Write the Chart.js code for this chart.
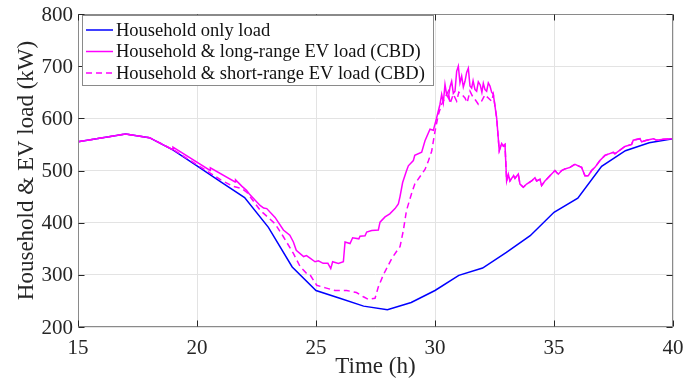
<!DOCTYPE html>
<html>
<head>
<meta charset="utf-8">
<script src="https://cdn.jsdelivr.net/npm/chart.js@4.4.1/dist/chart.umd.min.js"></script>
<style>
  html, body { margin: 0; padding: 0; background: #fff; }
</style>
</head>
<body>
<canvas id="chart" width="685" height="381"></canvas>
<script>
// Household only load (kW)
const blueTime = [15, 17, 18, 19, 20, 21, 22, 23, 24, 25, 26, 27, 28, 29, 30, 31, 32, 33, 34, 35, 36, 37, 38, 39, 40];
const blueLoad = [555, 570, 563, 539, 509, 478, 448, 391, 315, 270, 255, 240, 233, 247, 270, 299, 313, 343, 375, 420, 447, 508, 538, 553, 561];

// Household & long-range EV load (CBD)
const longTime = [15, 17, 18, 18.98, 18.99, 20.55, 20.56, 21.6, 21.62, 21.88, 22.08, 22.2, 22.65, 22.8, 22.93, 23.28, 23.63, 23.9, 24.05, 24.17,
  24.48, 24.6, 24.75, 24.96, 25.1, 25.3, 25.5, 25.62, 25.7, 25.94, 26.15, 26.22, 26.43, 26.54, 26.8, 26.85, 27.06, 27.13, 27.34, 27.62,
  27.69, 27.9, 28.1, 28.32, 28.46, 28.53, 28.64, 28.8, 28.88, 29.09, 29.15, 29.44, 29.58, 29.79, 29.93, 30.07, 30.21, 30.28, 30.35, 30.42,
  30.49, 30.56, 30.63, 30.7, 30.77, 30.84, 30.91, 30.98, 31.05, 31.12, 31.19, 31.26, 31.33, 31.4, 31.47, 31.54, 31.6, 31.68, 31.75, 31.82,
  31.9, 31.97, 32.03, 32.1, 32.17, 32.24, 32.31, 32.38, 32.45, 32.59, 32.7, 32.8, 32.87, 32.94, 33.01, 33.08, 33.15, 33.22, 33.3, 33.36,
  33.5, 33.57, 33.71, 33.85, 34.06, 34.2, 34.27, 34.41, 34.48, 34.62, 34.83, 35.04, 35.18, 35.32, 35.46, 35.67, 35.88, 36.02, 36.16, 36.3,
  36.44, 36.58, 36.72, 36.93, 37.14, 37.49, 37.56, 37.77, 37.98, 38.26, 38.33, 38.61, 38.68, 38.89, 39.17, 39.31, 39.59, 40];
const longLoad = [555, 570, 563, 540, 545, 500, 505, 478, 482, 470, 462, 455, 433, 428, 427, 410, 386, 376, 363, 347,
  335, 337, 332, 325, 327, 322, 322, 312, 325, 322, 325, 363, 360, 371, 369, 374, 375, 382, 385, 386,
  401, 411, 417, 427, 436, 450, 477, 499, 509, 519, 529, 535, 557, 579, 577, 601, 627, 646, 630, 665,
  645, 639, 660, 671, 648, 652, 690, 700, 668, 681, 660, 671, 688, 696, 662, 658, 672, 655, 652, 670,
  664, 650, 667, 655, 652, 668, 662, 650, 646, 601, 538, 552, 547, 550, 480, 493, 480, 485, 490, 485,
  493, 474, 468, 474, 480, 486, 480, 483, 471, 480, 490, 500, 493, 500, 503, 506, 512, 509, 506, 490,
  490, 500, 506, 519, 529, 535, 532, 539, 546, 550, 558, 561, 555, 558, 561, 558, 560, 561];

// Household & short-range EV load (CBD), up to the point where it joins the long-range curve
const shortHeadTime = [15, 17, 18, 19, 20, 21, 21.5, 21.9, 22.1, 22.65, 23.28, 23.63, 24.05, 24.33, 24.6, 24.75, 25.03, 25.4, 25.8, 26.29,
  26.7, 26.99, 27.2, 27.48, 27.62, 27.83, 28.18, 28.46, 28.53, 28.67, 28.8, 29.01, 29.15, 29.44, 29.58, 29.72, 29.86, 30.0, 30.14, 30.28,
  30.42, 30.56, 30.63, 30.77, 30.91, 31.0, 31.12, 31.26, 31.35, 31.47, 31.6, 31.7, 31.82, 31.96, 32.1, 32.24, 32.38, 32.45];
const shortHeadLoad = [555, 570, 563, 540, 511, 482, 470, 465, 458, 424, 398, 373, 341, 316, 303, 300, 280, 275, 270, 270,
  266, 258, 253, 255, 277, 300, 331, 350, 354, 385, 423, 455, 474, 493, 502, 518, 537, 575, 607, 627,
  639, 652, 628, 646, 633, 650, 646, 639, 630, 652, 640, 635, 627, 633, 645, 639, 633, 646];

// after ~32.5 h both EV cases carry the same load
const tailStart = longTime.findIndex(t => t > 32.45);
const shortTime = shortHeadTime.concat(longTime.slice(tailStart));
const shortLoad = shortHeadLoad.concat(longLoad.slice(tailStart));

const xTicks = [15, 20, 25, 30, 35, 40];
const yTicks = [200, 300, 400, 500, 600, 700, 800];

const toPoints = (ts, vs) => ts.map((t, i) => ({ x: t, y: vs[i] }));

const serif = "'Liberation Serif', 'Times New Roman', serif";
const ink = '#262626';

Chart.defaults.font.family = serif;
Chart.defaults.color = ink;

// MATLAB-style box with inward tick marks and tick labels, plus the legend box in the upper left
const framePlugin = {
  id: 'frame',
  afterDraw(chart) {
    const { ctx, chartArea: a, scales } = chart;
    const L = Math.round(a.left) + 0.5, R = Math.round(a.right) - 0.5;
    const T = Math.round(a.top) + 0.5, B = Math.round(a.bottom) - 0.5;
    ctx.save();
    ctx.lineWidth = 1;
    ctx.strokeStyle = '#8a8a8a';
    ctx.strokeRect(L, T, R - L, B - T);

    ctx.strokeStyle = ink;
    ctx.beginPath();
    xTicks.forEach(v => {
      const px = Math.round(scales.x.getPixelForValue(v)) + 0.5;
      ctx.moveTo(px, B); ctx.lineTo(px, B - 6);
      ctx.moveTo(px, T); ctx.lineTo(px, T + 6);
    });
    yTicks.forEach(v => {
      const py = Math.round(scales.y.getPixelForValue(v)) + 0.5;
      ctx.moveTo(L, py); ctx.lineTo(L + 6, py);
      ctx.moveTo(R, py); ctx.lineTo(R - 6, py);
    });
    ctx.stroke();

    ctx.fillStyle = ink;
    ctx.font = '21px ' + serif;
    ctx.textBaseline = 'middle';
    ctx.textAlign = 'center';
    xTicks.forEach(v => ctx.fillText(String(v), scales.x.getPixelForValue(v), a.bottom + 21));
    ctx.textAlign = 'right';
    yTicks.forEach(v => ctx.fillText(String(v), a.left - 5, scales.y.getPixelForValue(v) + 1));

    // legend
    const bx = 82.5, by = 15.5, bw = 351, bh = 70;
    ctx.fillStyle = '#fff';
    ctx.fillRect(bx, by, bw, bh);
    ctx.strokeStyle = '#8a8a8a';
    ctx.strokeRect(bx, by, bw, bh);
    ctx.font = '18.5px ' + serif;
    ctx.textBaseline = 'middle';
    ctx.textAlign = 'left';
    chart.data.datasets.forEach((ds, i) => {
      const yy = 30 + i * 21.5;
      ctx.strokeStyle = ds.borderColor;
      ctx.lineWidth = ds.borderWidth;
      ctx.setLineDash(ds.borderDash || []);
      ctx.beginPath();
      ctx.moveTo(86, yy); ctx.lineTo(113, yy);
      ctx.stroke();
      ctx.setLineDash([]);
      ctx.fillStyle = '#111';
      ctx.fillText(ds.label, 116, yy + 1);
    });
    ctx.restore();
  }
};

new Chart(document.getElementById('chart'), {
  type: 'line',
  data: {
    datasets: [
      {
        label: 'Household only load',
        data: toPoints(blueTime, blueLoad),
        borderColor: '#0000ff',
        borderWidth: 1.5,
        order: 2
      },
      {
        label: 'Household & long-range EV load (CBD)',
        data: toPoints(longTime, longLoad),
        borderColor: '#ff00ff',
        borderWidth: 1.5,
        order: 1
      },
      {
        label: 'Household & short-range EV load (CBD)',
        data: toPoints(shortTime, shortLoad),
        borderColor: '#ff00ff',
        borderWidth: 1.5,
        borderDash: [6, 4],
        order: 0
      }
    ]
  },
  options: {
    responsive: false,
    animation: false,
    elements: { point: { radius: 0 }, line: { tension: 0 } },
    layout: { padding: { left: 0, top: 14, right: 12, bottom: 0 } },
    plugins: { legend: { display: false }, tooltip: { enabled: false } },
    scales: {
      x: {
        type: 'linear',
        min: 15,
        max: 40,
        afterFit: s => { s.height = 54; s.paddingLeft = 0; s.paddingRight = 0; },
        afterBuildTicks: s => { s.ticks = xTicks.map(v => ({ value: v })); },
        grid: { color: '#e3e3e3', drawTicks: false },
        border: { display: false },
        ticks: { display: false },
        title: {
          display: true,
          text: 'Time (h)',
          color: ink,
          font: { family: serif, size: 23 },
          padding: { top: 0, bottom: 0 }
        }
      },
      y: {
        min: 200,
        max: 800,
        afterFit: s => { s.width = 78; s.paddingTop = 0; s.paddingBottom = 0; },
        afterBuildTicks: s => { s.ticks = yTicks.map(v => ({ value: v })); },
        grid: { color: '#e3e3e3', drawTicks: false },
        border: { display: false },
        ticks: { display: false },
        title: {
          display: true,
          text: 'Household & EV load (kW)',
          color: ink,
          font: { family: serif, size: 23 },
          padding: { top: 13, bottom: 0 }
        }
      }
    }
  },
  plugins: [framePlugin]
});
</script>
</body>
</html>
